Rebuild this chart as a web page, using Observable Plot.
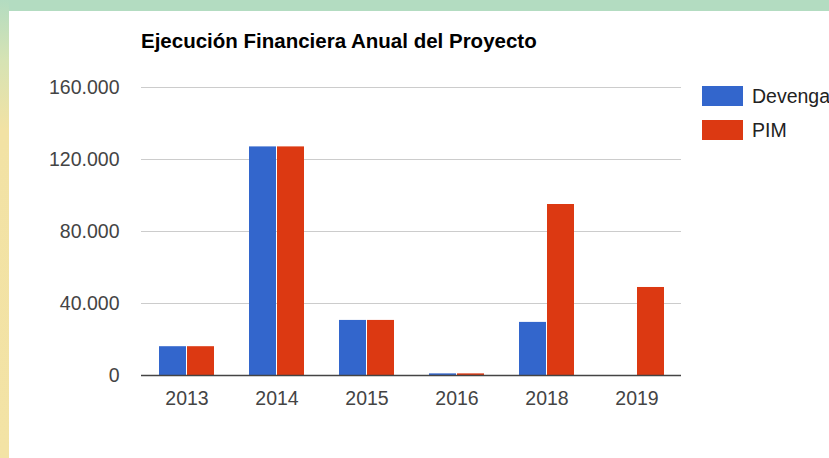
<!DOCTYPE html>
<html>
<head>
<meta charset="utf-8">
<script src="https://cdn.jsdelivr.net/npm/d3@7"></script>
<script src="https://cdn.jsdelivr.net/npm/@observablehq/plot@0.6"></script>
<style>
  html, body { margin: 0; padding: 0; background: #ffffff; }
  #frame { position: relative; width: 829px; height: 458px; overflow: hidden; background: #ffffff;
           font-family: "Liberation Sans", Arial, sans-serif; }
  #topband { position: absolute; left: 0; top: 0; width: 829px; height: 11px; background: #b3dcc1; }
  #leftband { position: absolute; left: 0; top: 0; width: 9px; height: 458px;
              background: linear-gradient(to bottom, #b3dcc1 0px, #d6e3b4 60px, #f2e2a4 130px, #f3e3a5 458px); }
  #chart { position: absolute; left: 0; top: 0; }
  #title { position: absolute; left: 141px; top: 31px; font-size: 20.5px; line-height: 20.5px;
           font-weight: bold; color: #000; white-space: nowrap; }
  .leg { position: absolute; left: 702px; height: 20px; display: flex; align-items: center; white-space: nowrap; }
  .sw { width: 41px; height: 20px; margin-right: 9px; flex: none; }
  .lt { font-size: 19.5px; color: #222; line-height: 20px; }
</style>
</head>
<body>
<div id="frame">
  <div id="topband"></div>
  <div id="leftband"></div>
  <div id="chart"></div>
  <div id="title">Ejecución Financiera Anual del Proyecto</div>
  <div id="legend"></div>
</div>
<script>
// ---- data ----
const years = ["2013", "2014", "2015", "2016", "2018", "2019"];
const devengado = [16000, 127000, 30600, 900, 29500, 0];
const pim = [16000, 127000, 30600, 900, 95000, 48900];
const seriesNames = ["Devengado", "PIM"];
const seriesColors = ["#3366cc", "#dc3912"];
const yTicks = [0, 40000, 80000, 120000, 160000];

const rowsDev = years.map((y, i) => ({year: y, value: devengado[i]}));
const rowsPim = years.map((y, i) => ({year: y, value: pim[i]}));

const loc = d3.formatLocale({decimal: ",", thousands: ".", grouping: [3], currency: ["", ""]});
const fmt = loc.format(",d");

const plot = Plot.plot({
  width: 829,
  height: 458,
  marginLeft: 141,
  marginRight: 148,
  marginTop: 87,
  marginBottom: 83,
  style: {background: "transparent", fontFamily: "'Liberation Sans', Arial, sans-serif", fontSize: "19.5px", color: "#444", overflow: "visible"},
  x: {type: "band", domain: years, paddingInner: 0.7, paddingOuter: 0.35, label: null, tickSize: 0, tickPadding: 16},
  y: {domain: [0, 160000], ticks: yTicks, tickFormat: fmt, label: null, tickSize: 0, tickPadding: 22},
  marks: [
    Plot.ruleY(yTicks.filter(d => d > 0), {stroke: "#cccccc", strokeWidth: 1.2}),
    Plot.barY(rowsDev, {x: "year", y: "value", fill: seriesColors[0], dx: -14}),
    Plot.barY(rowsPim, {x: "year", y: "value", fill: seriesColors[1], dx: 14}),
    Plot.ruleY([0], {stroke: "#444444", strokeWidth: 1.6})
  ]
});
document.getElementById("chart").appendChild(plot);

const legend = document.getElementById("legend");
const legTops = [86, 120];
seriesNames.forEach((name, i) => {
  const item = document.createElement("div");
  item.className = "leg";
  item.style.top = legTops[i] + "px";
  const sw = document.createElement("div");
  sw.className = "sw";
  sw.style.background = seriesColors[i];
  const t = document.createElement("span");
  t.className = "lt";
  t.textContent = name;
  item.appendChild(sw);
  item.appendChild(t);
  legend.appendChild(item);
});
</script>
</body>
</html>
